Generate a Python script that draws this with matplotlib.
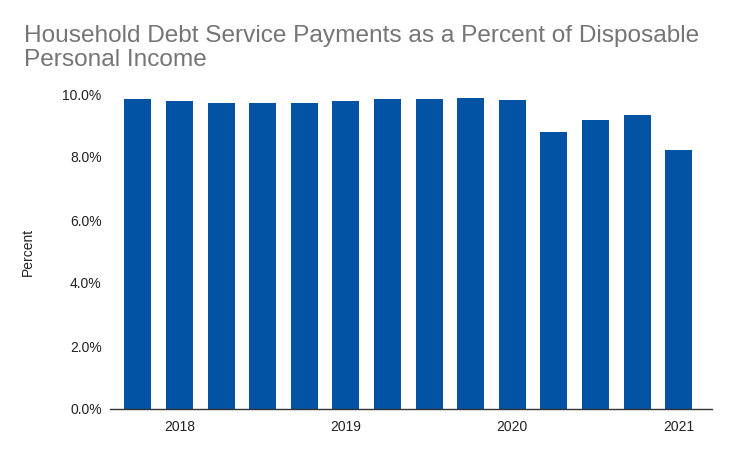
import numpy as np
import matplotlib
matplotlib.use('Agg')
import matplotlib.pyplot as plt
from matplotlib.ticker import FuncFormatter

plt.rcParams['font.family'] = ['Liberation Sans', 'DejaVu Sans']

# quarterly, 2017 Q4 .. 2021 Q1
quarters = ['2017Q4', '2018Q1', '2018Q2', '2018Q3', '2018Q4',
            '2019Q1', '2019Q2', '2019Q3', '2019Q4',
            '2020Q1', '2020Q2', '2020Q3', '2020Q4', '2021Q1']
debt_pct = [9.83, 9.77, 9.72, 9.72, 9.72, 9.77, 9.83, 9.83, 9.87,
            9.80, 8.79, 9.17, 9.34, 8.21]
year_labels = ['2018', '2019', '2020', '2021']
title_lines = ['Household Debt Service Payments as a Percent of Disposable',
               'Personal Income']

bar_color = '#0353a4'
text_gray = '#757575'

fig = plt.figure(figsize=(7.35, 4.54), dpi=100)
ax = fig.add_axes([110/735, 45/454, 602/735, 315/454])

x = np.arange(len(quarters))
ax.bar(x, np.array(debt_pct) / 100.0, width=0.65, color=bar_color)

ax.set_xlim(-0.67, len(quarters) - 1 + 0.8)
ax.set_ylim(0, 0.10)
ax.set_yticks(np.arange(0, 0.101, 0.02))
ax.yaxis.set_major_formatter(FuncFormatter(lambda v, p: '%.1f%%' % (v * 100)))

tick_pos = [i for i, q in enumerate(quarters) if q.endswith('Q1')]
ax.set_xticks(tick_pos)
ax.set_xticklabels(year_labels)

ax.tick_params(axis='both', length=0, labelsize=10, colors='#222222', pad=6)
ax.tick_params(axis='x', pad=8)

for s in ['top', 'right', 'left']:
    ax.spines[s].set_visible(False)
ax.spines['bottom'].set_color('#333333')
ax.spines['bottom'].set_linewidth(1.0)

ax.set_ylabel('Percent', fontsize=10, color='#222222', labelpad=20)

# title, one text per line so the baselines land where they should
fig.text(24/735, 1 - 42/454, title_lines[0], fontsize=17.6, color=text_gray,
         ha='left', va='baseline')
fig.text(24/735, 1 - 66/454, title_lines[1], fontsize=17.6, color=text_gray,
         ha='left', va='baseline')

fig.savefig('out.png', dpi=100)
